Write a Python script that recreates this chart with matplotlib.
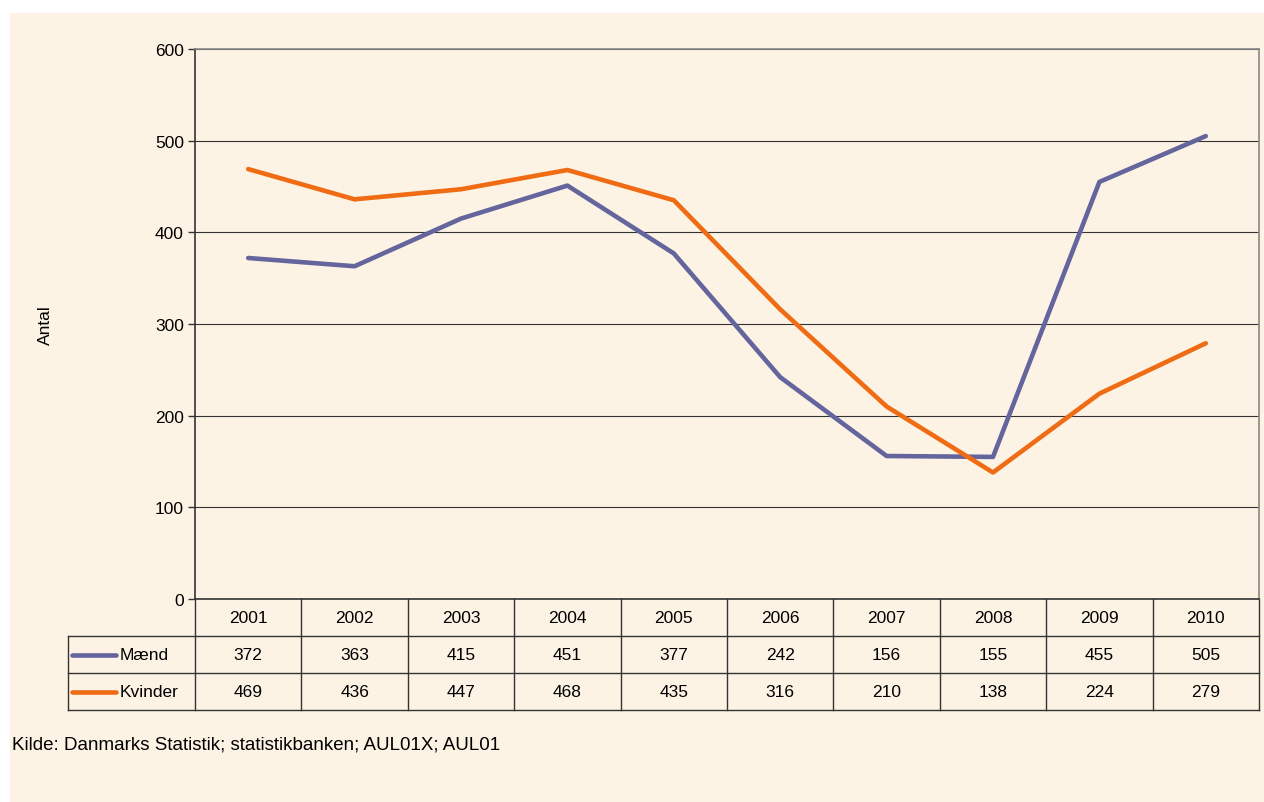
import matplotlib.pyplot as plt
import matplotlib.transforms as mtransforms
from matplotlib.patches import Rectangle
import numpy as np

plt.rcParams['font.family'] = ['Liberation Sans', 'DejaVu Sans']

years = ['2001', '2002', '2003', '2004', '2005', '2006', '2007', '2008', '2009', '2010']
maend = [372, 363, 415, 451, 377, 242, 156, 155, 455, 505]
kvinder = [469, 436, 447, 468, 435, 316, 210, 138, 224, 279]
series = [('Mænd', maend, '#65659E'), ('Kvinder', kvinder, '#EF6C14')]

W, H = 1264, 803
bg = '#FDF3E5'
fs = 12.5

fig = plt.figure(figsize=(W / 100, H / 100), dpi=100, facecolor='white')
fig.add_artist(Rectangle((10 / W, 0), 1 - 10 / W, 1 - 14 / H, transform=fig.transFigure,
                         facecolor=bg, edgecolor='none', zorder=-10))

left, right, top, bottom = 195, 1259, 50, 600
ax = fig.add_axes([left / W, 1 - bottom / H, (right - left) / W, (bottom - top) / H])
ax.set_facecolor(bg)

x = np.arange(len(years))
for name, vals, col in series:
    ax.plot(x, vals, color=col, lw=3.3, solid_capstyle='round', solid_joinstyle='round', zorder=3)

ax.set_xlim(-0.5, len(years) - 0.5)
ax.set_ylim(0, 600)
ax.set_yticks(range(0, 601, 100))
ax.set_xticks([])
ax.tick_params(axis='y', length=5, width=1, color='#333333', labelsize=fs, pad=3)
ax.yaxis.grid(True, color='#333333', lw=0.8)
ax.set_axisbelow(True)
for s in ['top', 'right']:
    ax.spines[s].set_color('#888888')
    ax.spines[s].set_linewidth(1.2)
for s in ['left', 'bottom']:
    ax.spines[s].set_color('#333333')
    ax.spines[s].set_linewidth(1.2)
fig.text(45 / W, 1 - 325 / H, 'Antal', rotation=90, ha='center', va='center', fontsize=fs)

# data table below the plot
trans = mtransforms.blended_transform_factory(ax.transData, ax.transAxes)
row_h = 37 / (bottom - top)
col_w = (right - left) / len(years)
tab_left = (68 - left) / col_w - 0.5
n = len(series) + 1
kw = dict(transform=trans, clip_on=False, color='#333333', lw=1.0)
for r in range(1, n + 1):
    ax.plot([tab_left, len(years) - 0.5], [-r * row_h, -r * row_h], **kw)
for i in range(len(years) + 1):
    ax.plot([i - 0.5, i - 0.5], [0, -n * row_h], **kw)
ax.plot([tab_left, tab_left], [-row_h, -n * row_h], **kw)

for i, yr in enumerate(years):
    ax.text(i, -0.5 * row_h, yr, transform=trans, ha='center', va='center', fontsize=fs)
for r, (name, vals, col) in enumerate(series, start=1):
    yc = -(r + 0.5) * row_h
    ax.plot([tab_left + 4 / col_w, tab_left + 48 / col_w], [yc, yc], color=col, lw=3.3,
            solid_capstyle='round', transform=trans, clip_on=False)
    ax.text(tab_left + 52 / col_w, yc, name, transform=trans, ha='left', va='center', fontsize=fs)
    for i, v in enumerate(vals):
        ax.text(i, yc, str(v), transform=trans, ha='center', va='center', fontsize=fs)

fig.text(12 / W, 1 - 745 / H, 'Kilde: Danmarks Statistik; statistikbanken; AUL01X; AUL01',
         ha='left', va='center', fontsize=13.5)

fig.savefig('out.png', dpi=100, facecolor=fig.get_facecolor())
